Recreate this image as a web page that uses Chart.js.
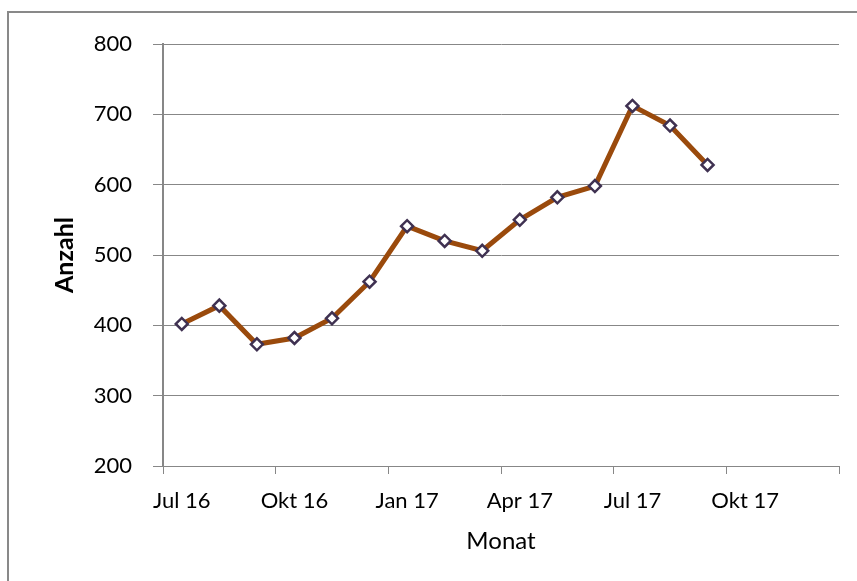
<!DOCTYPE html>
<html lang="de">
<head>
    <meta charset="UTF-8">
    <title>Anzahl pro Monat</title>
    <script src="https://cdn.jsdelivr.net/npm/chart.js"></script>
    <style>
        body { margin: 0; background: #fff; }
        #wrap { position: relative; width: 857px; height: 581px; overflow: hidden; }
        #frame { position: absolute; left: 7px; top: 11px; width: 900px; height: 620px;
                 border-left: 2px solid #898989; border-top: 2px solid #898989; }
        #myChart { position: absolute; left: 0; top: 0; }
    </style>
</head>
<body>
<div id="wrap">
    <div id="frame"></div>
    <canvas id="myChart" width="857" height="581"></canvas>
</div>
<script>
    // Monate Jul 16 .. Sep 17
    const months = ['Jul 16', 'Aug 16', 'Sep 16', 'Okt 16', 'Nov 16', 'Dez 16', 'Jan 17',
                    'Feb 17', 'Mär 17', 'Apr 17', 'Mai 17', 'Jun 17', 'Jul 17', 'Aug 17', 'Sep 17'];
    const anzahl = [402, 428, 373, 382, 410, 462, 541, 520, 506, 550, 582, 598, 712, 684, 628];
    const xTickLabels = ['Jul 16', 'Okt 16', 'Jan 17', 'Apr 17', 'Jul 17', 'Okt 17', ''];
    const yMin = 200, yMax = 800, yStep = 100;

    const grey = '#878787';
    const font = { family: 'Lato', size: 22, lineHeight: 1.2 };

    const points = anzahl.map((v, i) => ({ x: i + 0.5, y: v }));

    const ctx = document.getElementById('myChart').getContext('2d');
    const chart = new Chart(ctx, {
        type: 'line',
        data: {
            labels: months,
            datasets: [{
                label: 'Anzahl',
                data: points,
                borderColor: '#9a4a0c',
                borderWidth: 5,
                pointStyle: 'rectRot',
                pointRadius: 6,
                pointBackgroundColor: '#ffffff',
                pointBorderColor: '#3f3151',
                pointBorderWidth: 2.5,
                tension: 0
            }]
        },
        options: {
            responsive: false,
            animation: false,
            layout: { padding: { top: 44, right: 18, left: 0, bottom: 0 } },
            plugins: { legend: { display: false }, tooltip: { enabled: false } },
            scales: {
                x: {
                    type: 'linear',
                    min: 0,
                    max: (xTickLabels.length - 1) * 3,
                    afterBuildTicks: s => {
                        s.ticks = xTickLabels.map((t, i) => ({ value: i * 3 }));
                    },
                    afterFit: s => { s.height = 115; },
                    grid: { drawOnChartArea: false, color: grey, tickLength: 8, lineWidth: 1 },
                    border: { color: grey, width: 1 },
                    ticks: {
                        font: font,
                        color: '#000',
                        padding: 14,
                        maxRotation: 0,
                        autoSkip: false,
                        labelOffset: 18.8,
                        callback: v => xTickLabels[v / 3]
                    },
                    title: {
                        display: true,
                        text: 'Monat',
                        font: { family: 'Lato', size: 24, lineHeight: 1.2 },
                        color: '#000',
                        padding: { top: 0, bottom: 25 }
                    }
                },
                y: {
                    min: yMin,
                    max: yMax,
                    afterFit: s => { s.width = 163; },
                    grid: { color: grey, tickLength: 10, lineWidth: 1 },
                    border: { color: grey, width: 2 },
                    ticks: {
                        stepSize: yStep,
                        font: font,
                        color: '#000',
                        padding: 21
                    },
                    title: {
                        display: true,
                        text: 'Anzahl',
                        font: { family: 'Lato', size: 25, weight: 'bold', lineHeight: 1.2 },
                        color: '#000',
                        padding: { top: 50, bottom: 0 }
                    }
                }
            }
        }
    });
</script>
</body>
</html>
